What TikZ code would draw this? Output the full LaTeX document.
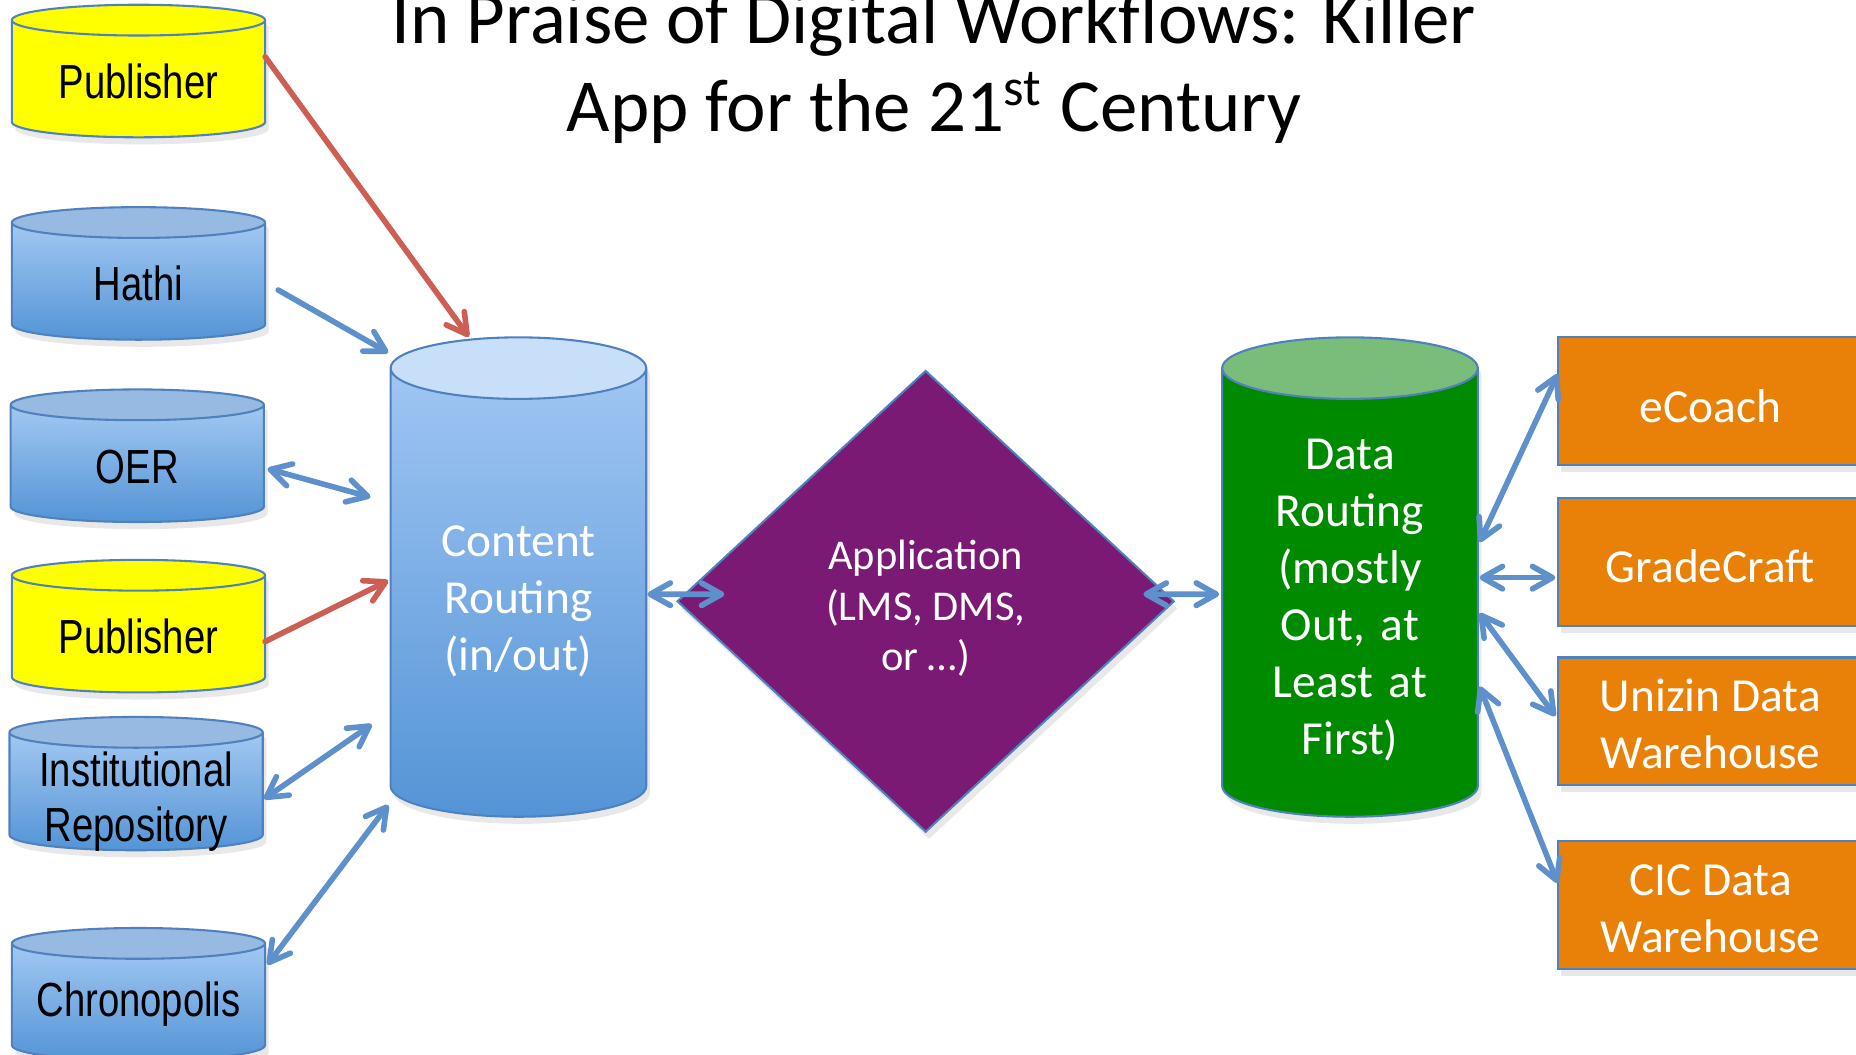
\documentclass[tikz,border=0pt]{standalone}
\usepackage{fontspec}
\setmainfont{Carlito}
\newfontfamily\narrowfont{Liberation Sans}[FakeStretch=0.8]
\usetikzlibrary{shapes.geometric, arrows.meta, calc, shadows}
\definecolor{edgeblue}{RGB}{79,129,189}
\definecolor{arrowblue}{RGB}{94,145,204}
\definecolor{arrowred}{RGB}{205,94,84}
\definecolor{canlight}{RGB}{172,207,245}
\definecolor{candark}{RGB}{84,148,214}
\definecolor{cantop}{RGB}{150,186,226}
\definecolor{routetop}{RGB}{200,223,250}
\definecolor{routelight}{RGB}{165,201,245}
\definecolor{pubyellow}{RGB}{255,255,0}
\definecolor{datagreen}{RGB}{0,138,0}
\definecolor{datatop}{RGB}{122,188,122}
\definecolor{apppurple}{RGB}{122,26,116}
\definecolor{toolorange}{RGB}{233,128,8}
\newcommand{\headroom}[1]{\rule{0pt}{#1}}

\begin{document}
\begin{tikzpicture}[
    x=0.1mm, y=-0.1mm,
    >={Straight Barb[round, length=1.7mm, width=1.9mm]},
    lowtext/.style={execute at begin node={\rule{0pt}{#1}}},
    softshadow/.style={drop shadow={opacity=0.18, shadow xshift=0.3mm, shadow yshift=-0.6mm}},
    can/.style={cylinder, shape border rotate=90, aspect=0.1215, draw=edgeblue, line width=0.5pt,
        inner sep=0pt, text width=21.4mm, minimum width=21.4mm, minimum height=11.2mm, align=center,
        font=\narrowfont\fontsize{11.5}{13.3}\selectfont, lowtext=9.3pt, softshadow},
    bluecan/.style={can, top color=canlight, bottom color=candark,
        path picture={\fill[cantop] ($(path picture bounding box.north)+(0,-1.3mm)$) ellipse [x radius=10.7mm, y radius=1.3mm];}},
    yellowcan/.style={can, fill=pubyellow},
    route/.style={cylinder, shape border rotate=90, aspect=0.2407, draw=edgeblue, line width=0.5pt,
        inner sep=0pt, text width=21.6mm, minimum width=21.6mm, minimum height=40.5mm, align=center, text=white,
        font=\fontsize{11.4}{13.7}\selectfont, softshadow},
    tool/.style={rectangle, fill=toolorange, draw=edgeblue, line width=0.5pt, minimum width=25.8mm,
        minimum height=10.8mm, align=center, text=white, font=\fontsize{11.4}{13.7}\selectfont,
        lowtext=10.2pt, softshadow},
    flow/.style={draw=arrowblue, line width=1.35pt, line cap=round},
    feed/.style={draw=arrowred, line width=1.35pt, line cap=round, ->}
]
    \useasboundingbox (0,0) rectangle (1568,891);

    % Title
    \node[font=\fontsize{18}{21}\selectfont, align=center] (title) at (789,57)
        {In Praise of Digital Workflows: Killer\\App for the 21\textsuperscript{st} Century};

    % Sources
    \node[yellowcan, anchor=shape center] (pub1) at (117,60) {Publisher};
    \node[bluecan, anchor=shape center] (hathi) at (117,231) {Hathi};
    \node[bluecan, anchor=shape center] (oer) at (116,385) {OER};
    \node[yellowcan, anchor=shape center] (pub2) at (117,529) {Publisher};
    \node[bluecan, anchor=shape center, text height=9.1pt, text depth=11.6pt] (inst) at (115,662)
        {Institutional\\Repository};
    \node[bluecan, anchor=shape center] (chrono) at (117,840) {Chronopolis};

    % Routing and application
    \node[route, anchor=shape center, top color=routelight, bottom color=candark,
        path picture={\fill[routetop] ($(path picture bounding box.north)+(0,-2.6mm)$) ellipse [x radius=10.8mm, y radius=2.6mm];}]
        (content) at (438,487.5) {\headroom{11.5pt}Content\\Routing\\(in/out)};
    \node[diamond, aspect=1.08, fill=apppurple, draw=edgeblue, line width=0.5pt, inner sep=0pt,
        minimum width=42mm, minimum height=39mm, align=center, text=white,
        font=\fontsize{10.2}{12.2}\selectfont, softshadow] (app) at (782,508)
        {\headroom{10.4pt}Application\\(LMS, DMS,\\or …)};
    \node[route, anchor=shape center, fill=datagreen,
        path picture={\fill[datatop] ($(path picture bounding box.north)+(0,-2.6mm)$) ellipse [x radius=10.8mm, y radius=2.6mm];}]
        (data) at (1140.5,487.5) {\headroom{10.8pt}Data\\Routing\\(mostly\\Out, at\\Least at\\First)};

    % Consumers
    \node[tool] (ecoach) at (1445,339) {eCoach};
    \node[tool] (grade) at (1445,474.5) {GradeCraft};
    \node[tool] (unizin) at (1445,609.5) {\headroom{9.2pt}Unizin Data\\Warehouse};
    \node[tool] (cic) at (1445,764.5) {\headroom{9.2pt}CIC Data\\Warehouse};

    % Connectors into content routing
    \draw[feed] ([shift={(107,-12)}]pub1.shape center) -- ([shift={(-42,-203)}]content.shape center);
    \draw[flow, ->] ([shift={(118,14)}]hathi.shape center) -- ([shift={(-110,-189.5)}]content.shape center);
    \draw[flow, <->] ([shift={(110,11)}]oer.shape center) -- ([shift={(-125,-67.5)}]content.shape center);
    \draw[feed] ([shift={(107,13)}]pub2.shape center) -- ([shift={(-110,3)}]content.shape center);
    \draw[flow, <->] ([shift={(108,13)}]inst.shape center) -- ([shift={(-124,124.5)}]content.shape center);
    \draw[flow, <->] ([shift={(109,-25)}]chrono.shape center) -- ([shift={(-110,192.5)}]content.shape center);

    % Middle
    \draw[flow, <->] ([shift={(109,14.5)}]content.shape center) -- ([shift={(-170,-6)}]app.center);
    \draw[flow, <->] ([shift={(184,-6)}]app.center) -- ([shift={(-110.5,14.5)}]data.shape center);

    % Out to consumers
    \draw[flow, <->] ([shift={(109.5,-29.5)}]data.shape center) -- ([shift={(-129,-23)}]ecoach.center);
    \draw[flow, <->] ([shift={(109.5,0.5)}]data.shape center) -- ([shift={(-131,13.5)}]grade.center);
    \draw[flow, <->] ([shift={(109.5,30.5)}]data.shape center) -- ([shift={(-131,-4.5)}]unizin.center);
    \draw[flow, <->] ([shift={(109.5,92.5)}]data.shape center) -- ([shift={(-129,-18.5)}]cic.center);
\end{tikzpicture}
\end{document}
